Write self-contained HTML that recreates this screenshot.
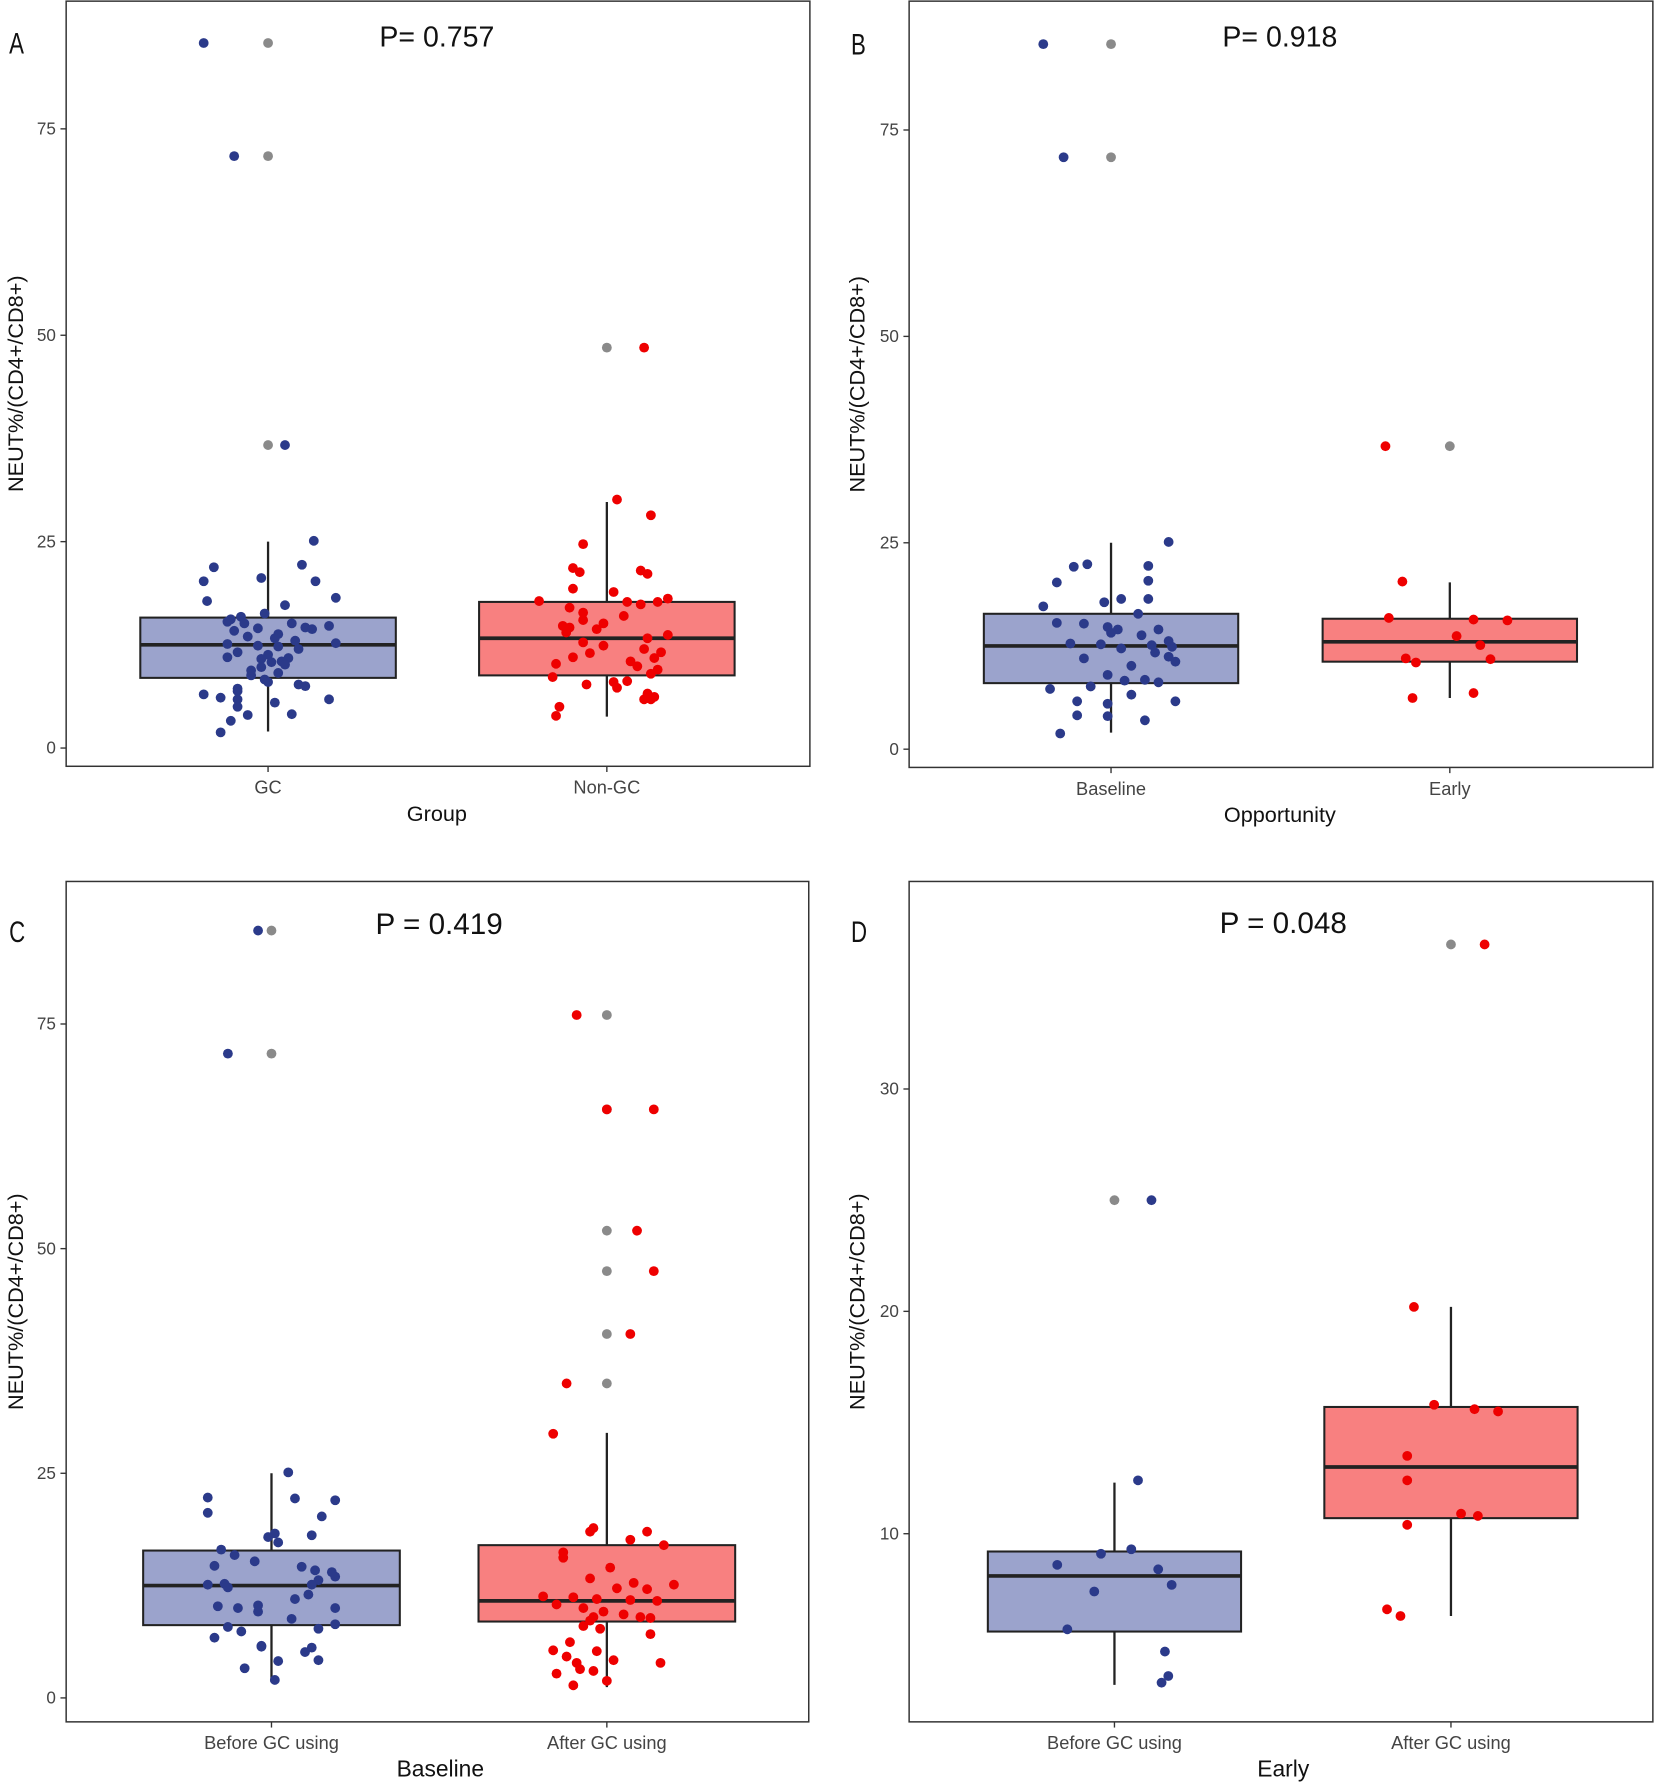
<!DOCTYPE html>
<html><head><meta charset="utf-8"><style>
html,body{margin:0;padding:0;background:#fff;}
svg{display:block;font-family:"Liberation Sans",sans-serif;}
</style></head><body>
<svg id="fig" width="1654" height="1788" viewBox="0 0 1450 1568" preserveAspectRatio="none" xmlns="http://www.w3.org/2000/svg"></svg>
<script>
// ---------- DATA ----------
// Panel A
const aCats = ["GC","Non-GC"];
const aTicks = [0,25,50,75];
const aBox = [[2,8.5,12.5,15.8,25],[3.8,8.8,13.3,17.7,29.8]];
const aOut = [[85.4,71.7,36.7],[48.5]];
const aVal0 = [85.4,71.7,36.7,25.1,22.2,21.9,20.6,20.2,20.2,18.2,17.8,17.3,16.3,15.9,15.6,15.3,15.1,15.1,14.8,14.6,14.5,14.4,14.2,13.8,13.5,13.3,13.0,12.7,12.6,12.4,12.3,12.0,11.6,11.3,11.0,10.9,10.8,10.5,10.4,10.1,9.8,9.4,9.1,8.8,8.3,8.0,7.7,7.5,7.2,6.9,6.5,6.1,5.9,5.9,5.5,5.0,4.1,4.0,3.3,1.9];
const aJit0 = [-0.19,-0.10,0.05,0.135,0.10,-0.16,-0.02,-0.19,0.14,0.20,-0.18,0.05,-0.01,-0.08,-0.11,-0.12,0.07,-0.07,0.18,0.11,-0.03,0.13,-0.10,0.03,-0.06,0.02,0.08,0.20,-0.12,-0.03,0.03,0.09,-0.09,0,-0.12,0.06,-0.02,0.04,0.01,0.05,-0.02,-0.05,0.03,-0.05,-0.01,0,0.09,0.11,-0.09,-0.09,-0.19,-0.14,-0.09,0.18,0.02,-0.09,0.07,-0.06,-0.11,-0.14];
const aVal1 = [48.5,30.1,28.2,24.7,21.8,21.3,21.5,21.1,19.3,18.9,17.8,17.7,17.7,17.4,18.1,17.0,16.4,16.0,15.5,15.1,14.8,14.6,14.4,14.0,13.7,13.3,12.8,12.4,12.0,11.6,11.5,11.0,10.9,10.5,10.2,9.9,9.5,9.0,8.6,8.1,8.0,7.7,7.3,6.6,6.2,5.9,5.9,5.0,3.9];
const aJit1 = [0.11,0.03,0.13,-0.07,-0.10,-0.08,0.10,0.12,-0.10,0.02,-0.20,0.06,0.15,0.10,0.18,-0.11,-0.07,0.05,-0.07,-0.01,-0.13,-0.11,-0.03,-0.12,0.18,0.12,-0.07,-0.01,0.11,0.16,-0.05,-0.10,0.14,0.07,-0.15,0.09,0.15,0.13,-0.16,0.06,0.02,-0.06,0.03,0.12,0.14,0.11,0.13,-0.14,-0.15];
// Panel B
const bCats = ["Baseline","Early"];
const bTicks = [0,25,50,75];
const bBox = [[2,8.0,12.5,16.4,25],[6.2,10.6,13.0,15.8,20.2]];
const bOut = [[85.4,71.7],[36.7]];
const bVal0 = [85.4,71.7,25.1,22.2,22.4,22.1,20.2,20.4,17.3,17.8,18.2,18.2,16.4,15.3,15.2,14.8,14.5,14.1,14.5,13.8,13.1,12.7,12.8,12.4,12.6,12.2,11.7,11.2,10.6,11.0,10.1,9.0,8.4,8.1,8.3,7.6,7.3,6.6,5.8,5.5,5.8,4.1,4.0,3.5,1.9];
const bJit0 = [-0.20,-0.14,0.17,0.11,-0.07,-0.11,-0.16,0.11,-0.20,-0.02,0.03,0.11,0.08,-0.16,-0.08,-0.01,0.02,0,0.14,0.09,0.17,-0.03,-0.12,0.18,0.12,0.03,0.13,0.17,0.19,-0.08,0.06,-0.01,0.10,0.14,0.04,-0.06,-0.18,0.06,-0.10,-0.01,0.19,-0.10,-0.01,0.10,-0.15];
const bVal1 = [36.7,20.3,15.9,15.7,15.6,13.7,12.6,11.0,10.5,10.9,6.2,6.8];
const bJit1 = [-0.19,-0.14,-0.18,0.07,0.17,0.02,0.09,-0.13,-0.10,0.12,-0.11,0.07];
// Panel C
const cCats = ["Before GC using","After GC using"];
const cTicks = [0,25,50,75];
const cBox = [[1.8,8.1,12.5,16.4,25],[1.2,8.5,10.8,17.0,29.5]];
const cOut = [[85.4,71.7],[76,65.5,52,47.5,40.5,35]];
const cVal0 = [85.4,71.7,25.1,22.3,22.2,22.0,20.6,20.2,18.3,17.9,18.1,17.3,16.5,15.9,15.2,14.7,14.6,14.2,14.0,13.5,13.1,12.6,12.6,12.7,12.3,11.5,11.0,10.3,10.0,10.2,10.0,9.6,8.8,8.2,7.9,7.7,7.4,6.7,5.8,5.7,5.6,5.1,4.1,4.2,3.3,2.0];
const cJit0 = [-0.04,-0.13,0.05,-0.19,0.07,0.19,-0.19,0.15,0.01,-0.01,0.12,0.02,-0.15,-0.11,-0.05,-0.17,0.09,0.13,0.18,0.19,0.14,0.12,-0.19,-0.14,-0.13,0.11,0.07,-0.04,-0.10,-0.16,0.19,-0.04,0.06,0.19,-0.13,0.14,-0.09,-0.17,-0.03,-0.03,0.12,0.10,0.02,0.14,-0.08,0.01];
const cVal1 = [76,65.5,65.5,52,47.5,40.5,35,29.4,18.9,18.5,18.5,17.6,17.0,16.2,15.6,14.5,13.3,12.8,12.6,12.2,12.1,11.3,11.2,11.0,10.9,10.8,10.4,10.0,9.6,9.3,9.0,8.6,9.0,8.9,8.0,7.7,7.1,6.2,5.3,5.2,4.6,4.2,3.9,3.9,3.2,2.7,3.0,1.4,1.9];
const cJit1 = [-0.09,0,0.14,0.09,0.14,0.07,-0.12,-0.16,-0.04,-0.05,0.12,0.07,0.17,-0.13,-0.13,0.01,-0.05,0.08,0.20,0.03,0.12,-0.19,-0.10,-0.03,0.07,0.15,-0.15,-0.07,-0.01,0.05,-0.04,-0.05,0.10,0.13,-0.07,-0.02,0.13,-0.11,-0.16,-0.03,-0.12,0.02,-0.09,0.16,-0.08,-0.15,-0.04,-0.10,0];
// Panel D
const dCats = ["Before GC using","After GC using"];
const dTicks = [10,20,30];
const dBox = [[3.2,5.6,8.1,9.2,12.3],[6.3,10.7,13.0,15.7,20.2]];
const dOut = [[25],[36.5]];
const dVal0 = [25,12.4,8.6,9.1,9.3,7.4,8.4,7.7,5.7,4.7,3.6,3.3];
const dJit0 = [0.11,0.07,-0.17,-0.04,0.05,-0.06,0.13,0.17,-0.14,0.15,0.16,0.14];
const dVal1 = [36.5,20.2,15.8,15.6,15.5,13.5,12.4,10.9,10.8,10.4,6.6,6.3];
const dJit1 = [0.10,-0.11,-0.05,0.07,0.14,-0.13,-0.13,0.03,0.08,-0.13,-0.19,-0.15];

// ---------- RENDER ----------
const NS="http://www.w3.org/2000/svg";
const svg=document.getElementById('fig');
function mk(tag,attrs,parent,txt){const e=document.createElementNS(NS,tag);for(const k in attrs)e.setAttribute(k,attrs[k]);if(txt!==undefined)e.textContent=txt;(parent||svg).appendChild(e);return e;}
const FILL=["#9ba3cc","#f88080"], PT=["#2b3a8a","#ee0000"], GRAY="#8a8a8a";

function panel(cfg){
  const g=mk('g',{});
  
  
  // y scale from two reference values
  const yS=v=>cfg.r0[1]+(v-cfg.r0[0])*(cfg.r1[1]-cfg.r0[1])/(cfg.r1[0]-cfg.r0[0]);
  const xS=(i,j)=>cfg.cx[0]+(i+(j||0))*(cfg.cx[1]-cfg.cx[0]);
  const frame=mk('rect',{x:cfg.x0,y:cfg.y0,width:cfg.x1-cfg.x0,height:cfg.y1-cfg.y0,fill:'none',stroke:'#333','stroke-width':1.3},g);
  
  
  cfg.ticks.forEach(t=>{
    const y=yS(t);
    mk('line',{x1:cfg.x0-5,x2:cfg.x0,y1:y,y2:y,stroke:'#333','stroke-width':1.2},g);
    const tl=mk('text',{x:cfg.x0-9,y:y+5,'text-anchor':'end','font-size':15,fill:'#444'},g,String(t));
    
    
  });
  const bw=cfg.bw;
  cfg.cats.forEach((c,i)=>{
    const x=xS(i);
    mk('line',{x1:x,x2:x,y1:cfg.y1,y2:cfg.y1+5,stroke:'#333','stroke-width':1.2},g);
    const xl=mk('text',{x:x,y:cfg.y1+24,'text-anchor':'middle','font-size':16,fill:'#444'},g,c);
    
    
    const b=cfg.box[i];
    const wl=mk('line',{x1:x,x2:x,y1:yS(b[0]),y2:yS(b[4]),stroke:'#222','stroke-width':2},g);
    
    
    const r=mk('rect',{x:x-bw/2,y:yS(b[3]),width:bw,height:yS(b[1])-yS(b[3]),fill:FILL[i],stroke:'#222','stroke-width':1.8},g);
    
    
    const m=mk('line',{x1:x-bw/2,x2:x+bw/2,y1:yS(b[2]),y2:yS(b[2]),stroke:'#222','stroke-width':3.2},g);
    
    
    cfg.out[i].forEach(v=>{
      const o=mk('circle',{cx:x,cy:yS(v),r:4.3,fill:GRAY},g);
      
      
    });
    const vals=cfg.vals[i], jit=cfg.jits[i];
    vals.forEach((v,k)=>{
      const p=mk('circle',{cx:xS(i,jit[k]),cy:yS(v),r:4.3,fill:PT[i]},g);
      
      
    });
  });
  const xt=mk('text',{x:cfg.xtx,y:cfg.y1+48,'text-anchor':'middle','font-size':cfg.xtSize,fill:'#111'},g,cfg.xtitle);
  
  
  const cy=(cfg.y0+cfg.y1)/2;
  const yt=mk('text',{x:0,y:0,transform:`translate(${cfg.ytx},${cy}) rotate(-90)`,'text-anchor':'middle','font-size':19,fill:'#111'},g,'NEUT%/(CD4+/CD8+)');
  
  
  const lt=mk('text',{x:0,y:0,transform:`translate(${cfg.ltx},${cfg.lty}) scale(0.75,1)`,'font-size':26,fill:'#111'},g,cfg.letter);
  
  
  const pt=mk('text',{x:cfg.px,y:cfg.py,'text-anchor':'middle','font-size':cfg.pSize,fill:'#111'},g,cfg.ptext);
  
  
}

panel({letter:'A',x0:58,x1:710,y0:1,y1:672,r0:[0,656],r1:[75,113],cx:[235,532],bw:224,ticks:aTicks,cats:aCats,box:aBox,out:aOut,vals:[aVal0,aVal1],jits:[aJit0,aJit1],xtitle:'Group',xtx:383,xtSize:19,ytx:20,ltx:8,lty:47,ptext:'P= 0.757',px:383,py:41,pSize:25});
panel({letter:'B',x0:797,x1:1449,y0:1,y1:673,r0:[0,657],r1:[75,114],cx:[974,1271],bw:223,ticks:bTicks,cats:bCats,box:bBox,out:bOut,vals:[bVal0,bVal1],jits:[bJit0,bJit1],xtitle:'Opportunity',xtx:1122,xtSize:19,ytx:758,ltx:746,lty:48,ptext:'P= 0.918',px:1122,py:41,pSize:25});
panel({letter:'C',x0:58,x1:709,y0:773,y1:1510,r0:[0,1489],r1:[75,898],cx:[238,532],bw:225,ticks:cTicks,cats:cCats,box:cBox,out:cOut,vals:[cVal0,cVal1],jits:[cJit0,cJit1],xtitle:'Baseline',xtx:386,xtSize:20,ytx:20,ltx:8,lty:826,ptext:'P = 0.419',px:385,py:819,pSize:26});
panel({letter:'D',x0:797,x1:1449,y0:773,y1:1510,r0:[10,1345],r1:[30,955],cx:[977,1272],bw:222,ticks:dTicks,cats:dCats,box:dBox,out:dOut,vals:[dVal0,dVal1],jits:[dJit0,dJit1],xtitle:'Early',xtx:1125,xtSize:20,ytx:758,ltx:746,lty:826,ptext:'P = 0.048',px:1125,py:818,pSize:26});
</script>
</body></html>
